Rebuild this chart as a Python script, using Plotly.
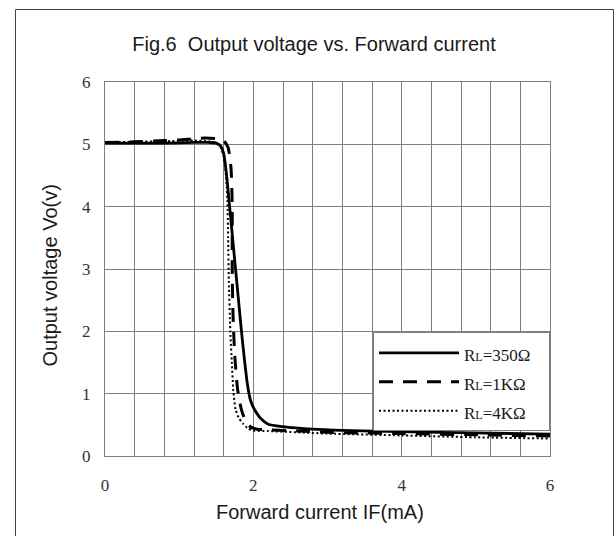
import plotly.graph_objects as go

# ---- data ----
x_350 = [0, 0.4, 0.8, 1.2, 1.4, 1.5, 1.56, 1.6, 1.64, 1.68, 1.72, 1.76, 1.80, 1.84, 1.88, 1.92,
         1.96, 2.0, 2.05, 2.1, 2.2, 2.4, 2.8, 3.2, 4.0, 5.0, 6.0]
y_350 = [5.02, 5.02, 5.02, 5.03, 5.03, 5.02, 4.97, 4.85, 4.5, 4.0, 3.5, 3.0, 2.5, 2.0, 1.55, 1.15,
         0.9, 0.78, 0.68, 0.6, 0.51, 0.47, 0.43, 0.41, 0.39, 0.37, 0.35]

x_1k = [0, 0.4, 0.8, 1.0, 1.2, 1.35, 1.5, 1.6, 1.66, 1.70, 1.715, 1.715, 1.725, 1.75, 1.79, 1.84,
        1.9, 1.96, 2.05, 2.2, 2.6, 3.0, 4.0, 5.0, 6.0]
y_1k = [5.03, 5.04, 5.06, 5.07, 5.09, 5.1, 5.09, 5.06, 4.95, 4.6, 4.0, 3.0, 2.3, 1.6, 1.05, 0.74,
        0.55, 0.47, 0.43, 0.42, 0.40, 0.38, 0.36, 0.34, 0.32]

x_4k = [0, 0.4, 0.8, 1.2, 1.4, 1.5, 1.56, 1.6, 1.63, 1.65, 1.66, 1.67, 1.69, 1.71, 1.73, 1.76,
        1.8, 1.86, 1.92, 2.0, 2.2, 2.6, 3.0, 4.0, 5.0, 6.0]
y_4k = [5.03, 5.04, 5.05, 5.06, 5.05, 5.02, 4.95, 4.8, 4.5, 4.1, 3.5, 2.8, 2.0, 1.5, 1.05, 0.75,
        0.62, 0.52, 0.45, 0.41, 0.40, 0.38, 0.36, 0.33, 0.30, 0.28]

load_values = ["350Ω", "1KΩ", "4KΩ"]

x_ticks = [0, 2, 4, 6]
y_ticks = [0, 1, 2, 3, 4, 5, 6]

title_text = "Fig.6\u00a0\u00a0Output voltage vs. Forward current"
x_title = "Forward current IF(mA)"
y_title = "Output voltage Vo(v)"

SANS = "Liberation Sans, Arial, sans-serif"
SERIF = "Liberation Serif, Times New Roman, serif"


def legend_name(v):
    return ('<span style="font-size:17px">R</span>'
            '<span style="font-size:12px">L</span>'
            '<span style="font-size:17px">=' + v + '\u00a0\u00a0\u00a0</span>')


fig = go.Figure()
fig.add_trace(go.Scatter(x=x_350, y=y_350, mode="lines", name=legend_name(load_values[0]),
                         line=dict(color="black", width=2.8, shape="spline", smoothing=0.6)))
fig.add_trace(go.Scatter(x=x_1k, y=y_1k, mode="lines", name=legend_name(load_values[1]),
                         line=dict(color="black", width=3, dash="14px,10px", shape="spline", smoothing=0.6)))
fig.add_trace(go.Scatter(x=x_4k, y=y_4k, mode="lines", name=legend_name(load_values[2]),
                         line=dict(color="black", width=2, dash="2px,2.5px", shape="spline", smoothing=0.6)))

W, H = 616, 536
L, R, T, B = 105, 66, 82, 80
pw, ph = W - L - R, H - T - B


def px_x(p):
    return (p - L) / pw


def px_y(p):
    return (H - B - p) / ph


fig.update_layout(
    width=W, height=H,
    margin=dict(l=L, r=R, t=T, b=B, pad=0),
    paper_bgcolor="white", plot_bgcolor="white",
    showlegend=True,
    title=dict(text=title_text, x=314 / W, xanchor="center", y=1 - 44 / H, yanchor="middle",
               yref="container", xref="container",
               font=dict(family=SANS, size=20, color="#1a1a1a")),
    xaxis=dict(range=[0, 6], tickvals=x_ticks, ticktext=[str(v) for v in x_ticks],
               showgrid=True, gridcolor="#7f7f7f", gridwidth=1,
               minor=dict(dtick=0.4, tick0=0, showgrid=True, gridcolor="#7f7f7f", gridwidth=1),
               showline=True, linecolor="#7f7f7f", linewidth=1, mirror=True,
               zeroline=False, ticks="", ticklabelstandoff=14,
               tickfont=dict(family=SERIF, size=17, color="#333333")),
    yaxis=dict(range=[0, 6], tickvals=y_ticks, ticktext=[str(v) for v in y_ticks],
               showgrid=True, gridcolor="#7f7f7f", gridwidth=1,
               showline=True, linecolor="#7f7f7f", linewidth=1, mirror=True,
               zeroline=False, ticks="", ticklabelstandoff=10,
               tickfont=dict(family=SERIF, size=17, color="#333333")),
    legend=dict(x=1, xanchor="right", y=px_y(332.3), yanchor="top",
                bgcolor="white", bordercolor="#7f7f7f", borderwidth=1,
                itemwidth=80, tracegroupgap=0,
                font=dict(family=SERIF, size=20, color="#1a1a1a")),
    annotations=[
        dict(text=x_title, xref="paper", yref="paper", x=px_x(320), y=px_y(512),
             xanchor="center", yanchor="middle", showarrow=False,
             font=dict(family=SANS, size=20, color="#1a1a1a")),
        dict(text=y_title, xref="paper", yref="paper", x=px_x(49), y=px_y(275.5),
             xanchor="center", yanchor="middle", showarrow=False, textangle=-90,
             font=dict(family=SANS, size=20, color="#1a1a1a")),
    ],
    shapes=[
        dict(type="rect", xref="paper", yref="paper",
             x0=px_x(15.5), x1=px_x(613.5), y0=px_y(545), y1=px_y(9.5),
             line=dict(color="#444444", width=1), fillcolor="rgba(0,0,0,0)", layer="below"),
    ],
)

fig.write_html("out.html")
